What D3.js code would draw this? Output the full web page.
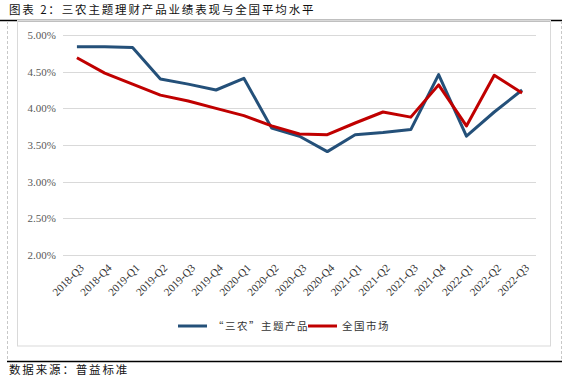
<!DOCTYPE html>
<html>
<head>
<meta charset="utf-8">
<script src="https://cdn.jsdelivr.net/npm/d3@7"></script>
<style>
  body { margin: 0; background: #fff; }
  svg { display: block; }
</style>
</head>
<body>
<svg id="chart"></svg>
<script>
// Data
const quarters = ["2018-Q3", "2018-Q4", "2019-Q1", "2019-Q2", "2019-Q3", "2019-Q4",
  "2020-Q1", "2020-Q2", "2020-Q3", "2020-Q4", "2021-Q1", "2021-Q2", "2021-Q3",
  "2021-Q4", "2022-Q1", "2022-Q2", "2022-Q3"];
const sannong = [4.84, 4.84, 4.83, 4.40, 4.33, 4.25, 4.41, 3.73, 3.62, 3.41,
  3.64, 3.67, 3.71, 4.46, 3.62, 3.95, 4.25];
const national = [4.69, 4.48, 4.33, 4.18, 4.10, 4.00, 3.90, 3.76, 3.65, 3.64,
  3.80, 3.95, 3.88, 4.32, 3.76, 4.45, 4.21];
const yTicks = [2.0, 2.5, 3.0, 3.5, 4.0, 4.5, 5.0];
const seriesNames = ["“三农”主题产品", "全国市场"];
const seriesColors = ["#245079", "#C00000"];

const W = 572, H = 379;
const svg = d3.select("#chart").attr("width", W).attr("height", H);

const serif = "'Liberation Serif', 'Times New Roman', serif";
const cjk = "'Noto Sans CJK SC', sans-serif";

// Title and frame
svg.append("text")
  .attr("x", 9).attr("y", 14)
  .style("font-family", cjk).style("font-size", "11.5px")
  .style("letter-spacing", "1.85px")
  .attr("fill", "#111")
  .text("图表 2：三农主题理财产品业绩表现与全国平均水平");

svg.append("line").attr("x1", 0).attr("x2", 562).attr("y1", 20.5).attr("y2", 20.5)
  .attr("stroke", "#000").attr("stroke-width", 1.5);

[7.5, 561.5].forEach((x) => {
  svg.append("line").attr("x1", x).attr("x2", x).attr("y1", 21).attr("y2", 361)
    .attr("stroke", "#c8c8c8").attr("stroke-dasharray", "3,2");
});

svg.append("rect").attr("x", 17.5).attr("y", 20.5).attr("width", 533).attr("height", 325.5)
  .attr("fill", "none").attr("stroke", "#d9d9d9");

svg.append("line").attr("x1", 7).attr("x2", 562).attr("y1", 361.5).attr("y2", 361.5)
  .attr("stroke", "#000").attr("stroke-width", 1.5);

svg.append("text")
  .attr("x", 9).attr("y", 374)
  .style("font-family", cjk).style("font-size", "11.5px")
  .style("letter-spacing", "1.85px")
  .attr("fill", "#111")
  .text("数据来源：普益标准");

// Scales
const x = d3.scaleBand().domain(quarters).range([63, 536]);
const y = d3.scaleLinear().domain([2, 5]).range([255, 35]);
const cx = (d) => x(d) + x.bandwidth() / 2;

// Gridlines
svg.append("g")
  .selectAll("line")
  .data(yTicks)
  .join("line")
  .attr("x1", 63).attr("x2", 536)
  .attr("y1", (d) => Math.round(y(d)) + 0.5)
  .attr("y2", (d) => Math.round(y(d)) + 0.5)
  .attr("stroke", "#d9d9d9");

// Y axis labels
const yAxis = svg.append("g")
  .attr("transform", "translate(56,0)")
  .call(d3.axisLeft(y).tickValues(yTicks).tickSize(0).tickPadding(0)
    .tickFormat((d) => d.toFixed(2) + "%"));
yAxis.select(".domain").remove();
yAxis.selectAll("text")
  .style("font-family", serif).style("font-size", "11px")
  .attr("fill", "#595959");

// X axis labels, rotated
svg.append("g")
  .selectAll("text")
  .data(quarters)
  .join("text")
  .attr("transform", (d) => `translate(${cx(d) + 5},${266}) rotate(-45)`)
  .attr("text-anchor", "end")
  .attr("dy", "0.35em")
  .style("font-family", serif).style("font-size", "11px")
  .attr("fill", "#333")
  .text((d) => d);

// Lines
const line = d3.line().x((d, i) => cx(quarters[i])).y((d) => y(d));
[sannong, national].forEach((vals, i) => {
  svg.append("path")
    .datum(vals)
    .attr("d", line)
    .attr("fill", "none")
    .attr("stroke", seriesColors[i])
    .attr("stroke-width", 3)
    .attr("stroke-linejoin", "round");
});

// Legend
const legendX = [178, 308];
const legendText = [213, 342];
seriesNames.forEach((name, i) => {
  svg.append("line")
    .attr("x1", legendX[i]).attr("x2", legendX[i] + 29)
    .attr("y1", 326).attr("y2", 326)
    .attr("stroke", seriesColors[i]).attr("stroke-width", 3);
  svg.append("text")
    .attr("x", legendText[i]).attr("y", 330)
    .style("font-family", cjk).style("font-size", "10.5px")
    .style("letter-spacing", "1.5px")
    .attr("fill", "#333")
    .text(name);
});
</script>
</body>
</html>
